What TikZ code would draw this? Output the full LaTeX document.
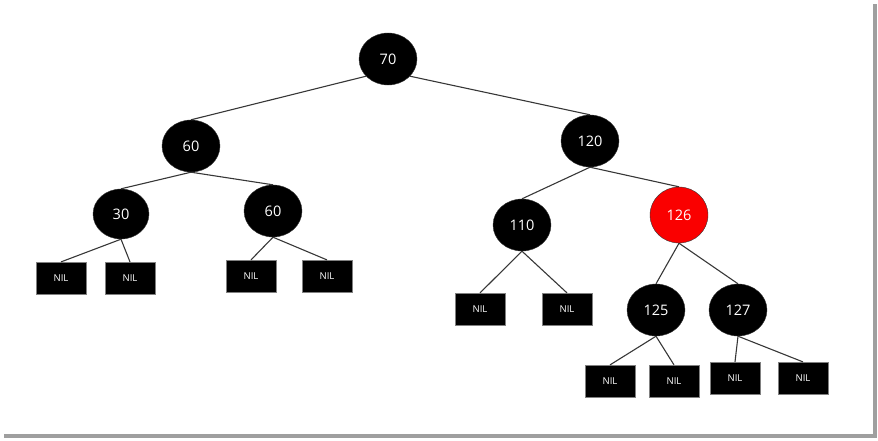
\documentclass[tikz,border=0pt]{standalone}
\usepackage{fontspec}
\setmainfont{Open Sans}
\usetikzlibrary{shapes.geometric}
\definecolor{nodered}{RGB}{250,0,0}
\definecolor{edgegray}{RGB}{55,55,55}

\begin{document}
\begin{tikzpicture}[x=1pt,y=-1pt,
  rbnode/.style={ellipse,draw=edgegray,thin,fill=black,text=white,minimum width=58pt,minimum height=52pt,inner sep=0pt,font=\fontsize{14.5}{16}\selectfont},
  rednode/.style={rbnode,fill=nodered},
  nilbox/.style={rectangle,draw=gray,very thin,fill=black,text=white,minimum width=50pt,minimum height=32pt,inner sep=0pt,font=\fontsize{9.5}{11}\selectfont},
  edge/.style={draw=edgegray,line width=1.1pt}]
\useasboundingbox (0,0) rectangle (878,440);
% shadow of the frame
\fill[gray!75] (873,4) rectangle (877,438);
\fill[gray!75] (4,434) rectangle (877,438);

% tree nodes
\node[rbnode] (n70) at (388,59){70};
\node[rbnode] (n60a) at (191,146){60};
\node[rbnode] (n120) at (590,141){120};
\node[rbnode,minimum width=56pt,minimum height=50pt] (n30) at (121,214){30};
\node[rbnode] (n60b) at (273,211){60};
\node[rbnode] (n110) at (522,225){110};
\node[rednode,minimum height=56pt] (n126) at (679,215){126};
\node[rbnode] (n125) at (656,310){125};
\node[rbnode] (n127) at (738,310){127};

% leaves
\node[nilbox] (nil1) at (61,278){NIL};
\node[nilbox] (nil2) at (130,278){NIL};
\node[nilbox] (nil3) at (251,276){NIL};
\node[nilbox] (nil4) at (327,276){NIL};
\node[nilbox] (nil5) at (480,309){NIL};
\node[nilbox] (nil6) at (567,309){NIL};
\node[nilbox] (nil7) at (610,381){NIL};
\node[nilbox] (nil8) at (674,381){NIL};
\node[nilbox] (nil9) at (735,378){NIL};
\node[nilbox] (nil10) at (803,378){NIL};

% links
\draw[edge] (n70.-142) -- (n60a.north);
\draw[edge] (n70.-38) -- (n120.north);
\draw[edge] (n60a.south) -- (n30.north);
\draw[edge] (n60a.south) -- (n60b.north);
\draw[edge] (n120.south) -- (n110.north);
\draw[edge] (n120.south) -- (n126.north);
\draw[edge] (n30.south) -- (nil1.north);
\draw[edge] (n30.south) -- (nil2.north);
\draw[edge] (n60b.south) -- (nil3.north);
\draw[edge] (n60b.south) -- (nil4.north);
\draw[edge] (n110.south) -- (nil5.north);
\draw[edge] (n110.south) -- (nil6.north);
\draw[edge] (n126.south) -- (n125.north);
\draw[edge] (n126.south) -- (n127.north);
\draw[edge] (n125.south) -- (nil7.north);
\draw[edge] (n125.south) -- (nil8.north);
\draw[edge] (n127.south) -- (nil9.north);
\draw[edge] (n127.south) -- (nil10.north);
\end{tikzpicture}
\end{document}
